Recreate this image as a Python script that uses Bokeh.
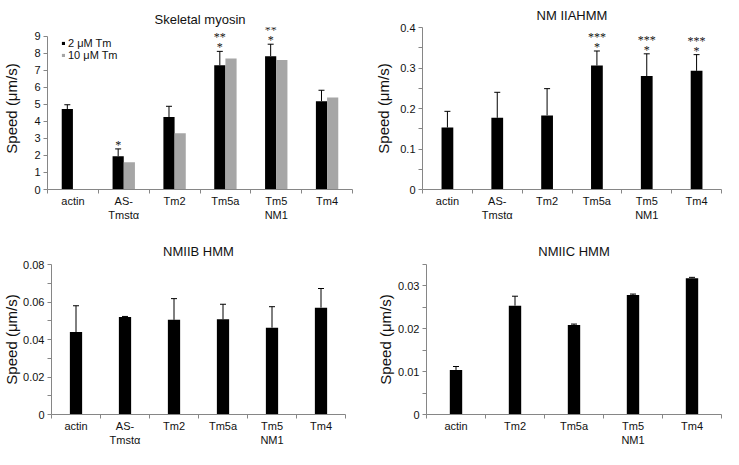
from bokeh.plotting import figure
from bokeh.layouts import column, row
from bokeh.models import (ColumnDataSource, Range1d, FixedTicker, Whisker, TeeHead, Legend,
                          LegendItem, LabelSet)
from bokeh.transform import dodge
from bokeh.embed import file_html
from bokeh.resources import INLINE

FONT = "Liberation Sans"
NAN = float("nan")

# ---- data ----
cats6 = ["actin", "AS-\nTmstα", "Tm2", "Tm5a", "Tm5\nNM1", "Tm4"]
cats5 = ["actin", "Tm2", "Tm5a", "Tm5\nNM1", "Tm4"]

sk_2uM = [4.72, 1.95, 4.25, 7.28, 7.82, 5.18]
sk_2uM_err = [0.25, 0.43, 0.63, 0.82, 0.70, 0.64]
sk_10uM = [NAN, 1.60, 3.30, 7.68, 7.60, 5.40]
sk_stars_low = ["", "*", "", "*", "*", ""]
sk_stars_high = ["", "", "", "**", "**", ""]

nm2a_speed = [0.153, 0.177, 0.183, 0.306, 0.280, 0.293]
nm2a_err = [0.040, 0.063, 0.066, 0.036, 0.055, 0.040]
nm2a_stars_low = ["", "", "", "*", "*", "*"]
nm2a_stars_high = ["", "", "", "***", "***", "***"]

nm2b_speed = [0.044, 0.052, 0.0505, 0.0508, 0.0463, 0.057]
nm2b_err = [0.014, 0.0003, 0.0113, 0.008, 0.0112, 0.0102]

nm2c_speed = [0.0104, 0.0254, 0.0209, 0.0279, 0.0318]
nm2c_err = [0.0008, 0.0022, 0.0002, 0.0002, 0.0002]

AXIS_GRAY = "#868686"
GRAY_BAR = "#a6a6a6"
TXT = "#111111"


def make_panel(title, cats, ymax, yticks, yminor, width, height, borders,
               title_standoff, label_standoff, yshow=None):
    n = len(cats)
    p = figure(width=width, height=height, output_backend="svg", toolbar_location=None,
               x_range=Range1d(-0.5, n - 0.5),
               y_range=Range1d(0, yshow if yshow else ymax),
               min_border_left=borders[0], min_border_right=borders[1],
               min_border_top=borders[2], min_border_bottom=borders[3])
    p.outline_line_color = None
    p.grid.visible = False
    p.title.text = title
    p.title.align = "center"
    p.title.text_font = FONT
    p.title.text_font_size = "13px"
    p.title.text_font_style = "normal"
    p.title.text_color = TXT
    p.title.standoff = title_standoff

    xa = p.xaxis[0]
    xa.ticker = FixedTicker(ticks=list(range(n)), minor_ticks=[i - 0.5 for i in range(n + 1)])
    xa.major_label_overrides = {i: c for i, c in enumerate(cats)}
    xa.major_tick_out = 0
    xa.major_tick_in = 0
    xa.minor_tick_out = 4
    xa.minor_tick_in = 0
    xa.major_label_standoff = 1
    xa.axis_label = None
    xa.axis_label_standoff = 0

    ya = p.yaxis[0]
    ya.ticker = FixedTicker(ticks=yticks, minor_ticks=yminor)
    ya.major_label_overrides = {v: f"{v:g}" for v in yticks}
    ya.bounds = (0, ymax)
    ya.major_tick_out = 4
    ya.major_tick_in = 0
    ya.minor_tick_out = 4
    ya.minor_tick_in = 0
    ya.major_label_standoff = 3
    ya.axis_label = "Speed (μm/s)"
    ya.axis_label_standoff = label_standoff
    ya.axis_label_text_font = FONT
    ya.axis_label_text_font_size = "15px"
    ya.axis_label_text_font_style = "normal"
    ya.axis_label_text_color = TXT

    for ax in (xa, ya):
        ax.axis_line_color = AXIS_GRAY
        ax.major_tick_line_color = AXIS_GRAY
        ax.minor_tick_line_color = AXIS_GRAY
        ax.major_label_text_font = FONT
        ax.major_label_text_font_size = "11px"
        ax.major_label_text_color = TXT
    return p


def add_bars(p, vals, errs, bar_w, off, stars_low=None, stars_high=None):
    n = len(vals)
    hi = [v + e for v, e in zip(vals, errs)]
    src = ColumnDataSource(dict(x=list(range(n)), top=vals, hi=hi,
                                low=stars_low if stars_low else [""] * n,
                                high=stars_high if stars_high else [""] * n))
    r = p.vbar(x=dodge("x", off, range=p.x_range), top="top", bottom=0, width=bar_w,
               source=src, fill_color="black", line_color=None)
    w = Whisker(base=dodge("x", off, range=p.x_range), lower="top", upper="hi", source=src,
                dimension="height", line_color="black", line_width=1,
                upper_head=TeeHead(size=6, line_color="black", line_width=1), lower_head=None)
    p.add_layout(w)
    if stars_low:
        for col, yo in (("low", -3), ("high", 7)):
            labels = LabelSet(x=dodge("x", off, range=p.x_range), y="hi", text=col, source=src,
                              text_align="center", text_baseline="bottom", text_font=FONT,
                              text_font_size="12px", y_offset=yo, text_color=TXT)
            p.add_layout(labels)
    return r


# Panel 1: Skeletal myosin
p1 = make_panel("Skeletal myosin", cats6, 9, list(range(10)), [], 361, 224,
                (42, 9, 16, 35), 2, 11, yshow=9.5)
bw = 0.22
r_black = add_bars(p1, sk_2uM, sk_2uM_err, bw, -bw / 2, sk_stars_low, sk_stars_high)
src10 = ColumnDataSource(dict(x=list(range(len(sk_10uM))), top=sk_10uM))
r_gray = p1.vbar(x=dodge("x", bw / 2, range=p1.x_range), top="top", bottom=0, width=bw,
                 source=src10, fill_color=GRAY_BAR, line_color=None)
leg = Legend(items=[LegendItem(label="2 μM Tm", renderers=[r_black]),
                    LegendItem(label="10 μM Tm", renderers=[r_gray])],
             location=(14, 128), glyph_width=4, glyph_height=4, label_height=12,
             label_standoff=3, spacing=0, padding=0, margin=0,
             border_line_color=None, background_fill_alpha=0,
             label_text_font=FONT, label_text_font_size="11px", label_text_color=TXT)
p1.add_layout(leg)

# Panel 2: NM IIA HMM
p2 = make_panel("NM IIAHMM", cats6, 0.4, [0, 0.1, 0.2, 0.3, 0.4],
                [0.05, 0.15, 0.25, 0.35], 362, 224, (61, 2, 27, 35), 10, 5)
add_bars(p2, nm2a_speed, nm2a_err, 0.236, 0, nm2a_stars_low, nm2a_stars_high)

# Panel 3: NMIIB HMM
p3 = make_panel("NMIIB HMM", cats6, 0.08, [0, 0.02, 0.04, 0.06, 0.08],
                [0.01, 0.03, 0.05, 0.07], 361, 225, (46, 16, 40, 35), 12, 0)
add_bars(p3, nm2b_speed, nm2b_err, 0.25, 0)

# Panel 4: NMIIC HMM
p4 = make_panel("NMIIC HMM", cats5, 0.035, [0, 0.01, 0.02, 0.03],
                [0.005, 0.015, 0.025, 0.035], 362, 225, (65, 2, 40, 35), 12, 1)
add_bars(p4, nm2c_speed, nm2c_err, 0.21, 0)

layout = column(row(p1, p2), row(p3, p4))

open("out.html", "w").write(file_html(layout, INLINE))
